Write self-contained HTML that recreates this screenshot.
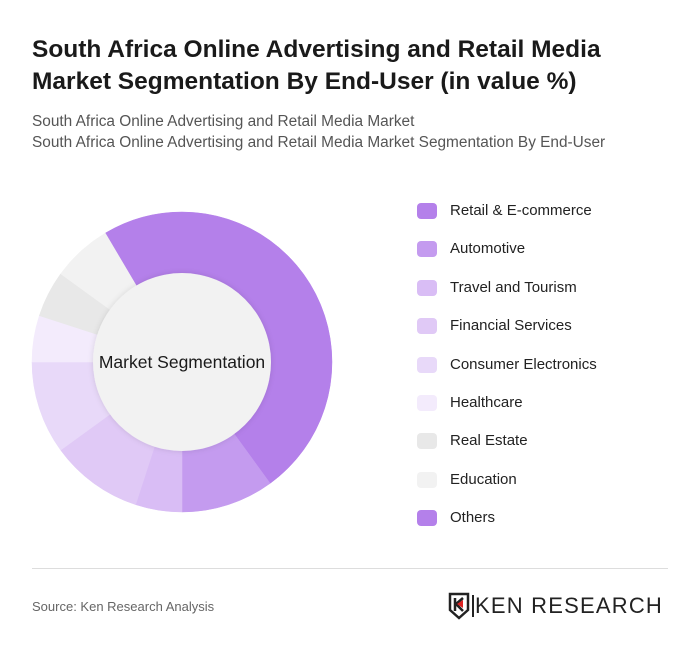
<!DOCTYPE html>
<html><head><meta charset="utf-8"><style>
body{margin:0;background:#fff;font-family:"Liberation Sans",sans-serif;}
#wrap{position:relative;width:700px;height:653px;overflow:hidden;}
h1{position:absolute;left:32px;top:34px;margin:0;font-size:24.5px;line-height:32px;font-weight:bold;color:#1a1a1a;width:660px;}
.sub{position:absolute;left:32px;font-size:15.4px;color:#555;white-space:nowrap;}
.leg{position:absolute;left:418px;font-size:15px;color:#222;}
.sw{position:absolute;left:-1px;width:20px;height:16px;border-radius:4px;}
.leg span{position:absolute;left:32px;top:-1px;white-space:nowrap;}
#rule{position:absolute;left:32px;top:568px;width:636px;height:1px;background:#ddd;}
</style></head><body>
<div id="wrap">
<h1>South Africa Online Advertising and Retail Media<br>Market Segmentation By End-User (in value %)</h1>
<div class="sub" style="top:113px">South Africa Online Advertising and Retail Media Market</div>
<div class="sub" style="top:134px">South Africa Online Advertising and Retail Media Market Segmentation By End-User</div>
<svg id="donut" width="700" height="653" style="position:absolute;left:0;top:0">
<defs><filter id="sh" x="-20%" y="-20%" width="140%" height="140%"><feDropShadow dx="0" dy="0" stdDeviation="3" flood-color="#000" flood-opacity="0.12"/></filter></defs>
<g id="slices"></g>
<circle cx="182" cy="362" r="89" fill="#f2f2f2" filter="url(#sh)"/>
<text x="182" y="368" text-anchor="middle" font-size="17.5" fill="#1a1a1a" font-family="Liberation Sans, sans-serif">Market Segmentation</text>
</svg>
<div id="legend"></div>
<div id="rule"></div>
<div class="sub" style="top:599px;font-size:13px;color:#666">Source: Ken Research Analysis</div>
<div style="position:absolute;left:448px;top:592px;width:222px;height:28px;">
<svg width="24" height="28" style="position:absolute;left:0;top:0"><path d="M2 2h18v16l-9 8-9-8z" fill="none" stroke="#222" stroke-width="2.5"/><path d="M7 6v13M8 12l7-6M8 12l7 7" stroke="#222" stroke-width="2.5" fill="none"/><path d="M9 12l6-4v8z" fill="#d22"/></svg>
<div style="position:absolute;left:24px;top:3px;width:2px;height:22px;background:#222"></div>
<div style="position:absolute;left:27px;top:1px;font-size:22px;letter-spacing:1.2px;color:#222;font-family:'Liberation Sans',sans-serif;white-space:nowrap">KEN RESEARCH</div>
</div>
</div>
<script>
const categories=["Retail & E-commerce","Automotive","Travel and Tourism","Financial Services","Consumer Electronics","Healthcare","Real Estate","Education","Others"];
const values=[40,10,5,10,10,5,5,6.5,8.5];
const colors=["#b480ea","#c49bef","#d9bdf5","#e0c9f6","#e8d9f9","#f3ebfc","#e8e8e8","#f2f2f2","#b480ea"];
const cx=182,cy=362,R=150,r=85;
const total=values.reduce((a,b)=>a+b,0);
const g=document.getElementById('slices');
let a0=0;
function pt(a,rad){return [cx+rad*Math.sin(a),cy-rad*Math.cos(a)];}
values.forEach((v,i)=>{
 const a1=a0+v/total*2*Math.PI;
 const p1=pt(a0,R),p2=pt(a1,R),p3=pt(a1,r),p4=pt(a0,r);
 const lg=(a1-a0)>Math.PI?1:0;
 const p=document.createElementNS('http://www.w3.org/2000/svg','path');
 p.setAttribute('d',`M${p1}A${R},${R} 0 ${lg} 1 ${p2}L${p3}A${r},${r} 0 ${lg} 0 ${p4}Z`);
 p.setAttribute('fill',colors[i]);
 p.setAttribute('stroke',colors[i]);p.setAttribute('stroke-width','0.5');
 
 
 g.appendChild(p);a0=a1;
});
const L=document.getElementById('legend');
categories.forEach((c,i)=>{
 const d=document.createElement('div');d.className='leg';d.style.top=(203+i*38.4)+'px';
 
 
 d.innerHTML=`<div class="sw" style="background:${colors[i]}"></div><span>${c.replace('&','&amp;')}</span>`;
 L.appendChild(d);
});
</script>
</body></html>
